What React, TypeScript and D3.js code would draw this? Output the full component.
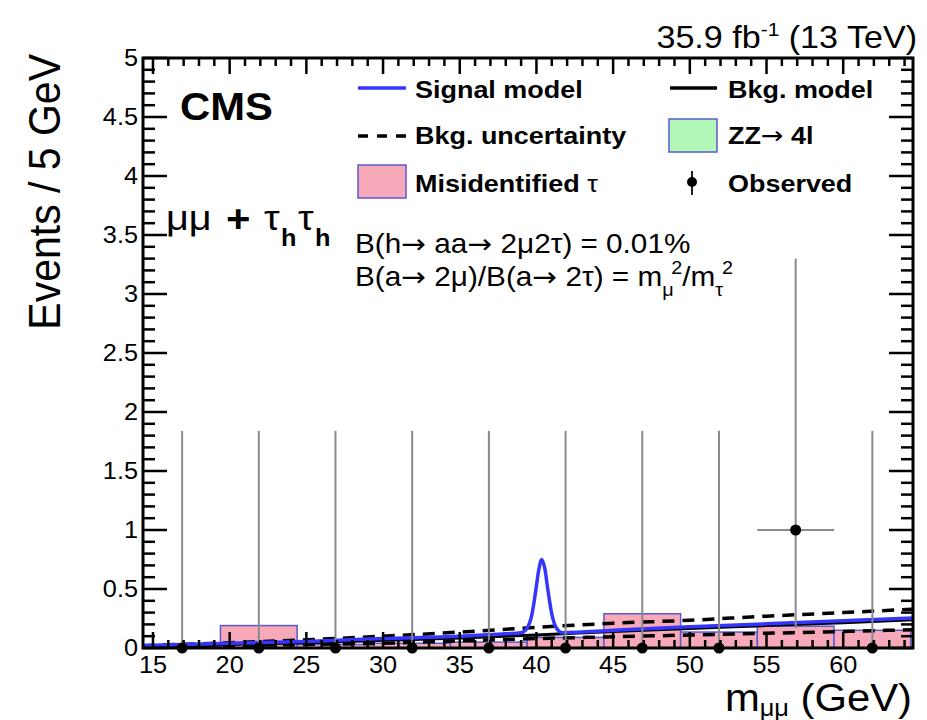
import React from "react";
import * as d3 from "d3";

// bins (GeV) and observed data
const binEdges = [14.4, 19.4, 24.4, 29.4, 34.4, 39.4, 44.4, 49.4, 54.4, 59.4, 64.4];
const obsCenters = [16.9, 21.9, 26.9, 31.9, 36.9, 41.9, 46.9, 51.9, 56.9, 61.9];
const obsCounts = [0, 0, 0, 0, 0, 0, 0, 0, 1, 0];
const obsErrUp = [1.84, 1.84, 1.84, 1.84, 1.84, 1.84, 1.84, 1.84, 2.3, 1.84];
const obsErrDown = [0, 0, 0, 0, 0, 0, 0, 0, 0.83, 0];

// misidentified tau histogram
const misId = [0.01, 0.19, 0.03, 0.04, 0.05, 0.09, 0.29, 0.135, 0.185, 0.15];

// background model and its uncertainty band edges [m, value]
const bkgModel = [
  [14.35, 0.01], [20, 0.03], [25, 0.045], [30, 0.065], [35, 0.085], [40, 0.11],
  [45, 0.14], [50, 0.165], [55, 0.19], [60, 0.215], [64.55, 0.24],
];
const bkgUp = [
  [14.35, 0.02], [20, 0.045], [25, 0.07], [30, 0.1], [35, 0.135], [40, 0.175],
  [45, 0.21], [50, 0.235], [55, 0.27], [60, 0.3], [64.55, 0.33],
];
const bkgDown = [
  [14.35, 0.005], [20, 0.02], [25, 0.03], [30, 0.04], [35, 0.06], [40, 0.08],
  [45, 0.095], [50, 0.11], [55, 0.125], [60, 0.14], [64.55, 0.155],
];
// signal + background
const signalModel = [
  [14.35, 0.02], [20, 0.04], [25, 0.055], [30, 0.08], [35, 0.1], [38, 0.12],
  [39.0, 0.13], [39.4, 0.17], [39.7, 0.28], [39.95, 0.48], [40.15, 0.66],
  [40.35, 0.75], [40.55, 0.67], [40.75, 0.49], [41.0, 0.29], [41.3, 0.17],
  [41.7, 0.13], [45, 0.15], [50, 0.18], [55, 0.205], [60, 0.23], [64.55, 0.255],
];

const FONT = "'Liberation Sans', Arial, Helvetica, sans-serif";
const ARROW = "'DejaVu Sans', sans-serif";
const SX = 1.1;

function T(props: any) {
  const { x, y, size, weight, anchor, children } = props;
  return (
    <text
      transform={`translate(${x},${y}) scale(${SX},1)`}
      fontSize={size}
      fontWeight={weight || "normal"}
      textAnchor={anchor || "start"}
      fontFamily={FONT}
      fill="#000"
    >
      {children}
    </text>
  );
}

const Arr = () => (
  <tspan fontFamily={ARROW} fontWeight="normal">→</tspan>
);

export default function App() {
  const x = d3.scaleLinear().domain([14.35, 64.55]).range([143, 913]);
  const y = d3.scaleLinear().domain([0, 5]).range([648, 58]);
  const [x0, x1] = x.range();
  const [y0, y1] = y.range();

  const line = d3
    .line<number[]>()
    .x((d) => x(d[0]))
    .y((d) => y(d[1]))
    .curve(d3.curveMonotoneX);

  const xMajor = x.ticks(10);
  const xMinor = d3.range(15, 65, 1).filter((v) => !xMajor.includes(v));
  const yMajor = y.ticks(10);
  const yMinor = y.ticks(50).filter((v) => Math.round(v * 10) % 5 !== 0);

  const blue = "#3535ff";
  const pink = "#f7a9b9";
  const edge = "#5a5ad0";
  const grey = "#8a8a8a";
  const LS = 24.5;

  return (
    <svg width={927} height={720} style={{ position: "absolute", left: 0, top: 0, background: "#fff" }}>
      <defs>
        <clipPath id="plot">
          <rect x={x0} y={y1} width={x1 - x0} height={y0 - y1} />
        </clipPath>
      </defs>

      <g clipPath="url(#plot)">
        {misId.map((v, i) => (
          <rect
            key={i}
            x={x(binEdges[i])}
            y={y(v)}
            width={x(binEdges[i + 1]) - x(binEdges[i])}
            height={y(0) - y(v)}
            fill={pink}
            stroke={edge}
            strokeWidth={1.5}
          />
        ))}
        <path d={line(bkgDown as any) || ""} fill="none" stroke="#000" strokeWidth={3.5} strokeDasharray="12,8" />
        <path d={line(bkgUp as any) || ""} fill="none" stroke="#000" strokeWidth={3.5} strokeDasharray="12,8" />
        <path d={line(bkgModel as any) || ""} fill="none" stroke="#000" strokeWidth={3} />
        <path d={line(signalModel as any) || ""} fill="none" stroke={blue} strokeWidth={3.5} />

        {obsCenters.map((c, i) => (
          <g key={i}>
            <line
              x1={x(c)}
              x2={x(c)}
              y1={y(obsCounts[i] - obsErrDown[i])}
              y2={y(obsCounts[i] + obsErrUp[i])}
              stroke={grey}
              strokeWidth={2}
            />
            <line
              x1={x(binEdges[i])}
              x2={x(binEdges[i + 1])}
              y1={y(obsCounts[i])}
              y2={y(obsCounts[i])}
              stroke={grey}
              strokeWidth={2}
            />
          </g>
        ))}
      </g>

      {/* frame and ticks */}
      <rect x={x0} y={y1} width={x1 - x0} height={y0 - y1} fill="none" stroke="#000" strokeWidth={3} />
      {xMajor.map((v) => (
        <g key={"xm" + v}>
          <line x1={x(v)} x2={x(v)} y1={y0} y2={y0 - 16} stroke="#000" strokeWidth={2.5} />
          <line x1={x(v)} x2={x(v)} y1={y1} y2={y1 + 16} stroke="#000" strokeWidth={2.5} />
        </g>
      ))}
      {xMinor.map((v) => (
        <g key={"xn" + v}>
          <line x1={x(v)} x2={x(v)} y1={y0} y2={y0 - 8} stroke="#000" strokeWidth={2.5} />
          <line x1={x(v)} x2={x(v)} y1={y1} y2={y1 + 8} stroke="#000" strokeWidth={2.5} />
        </g>
      ))}
      {yMajor.map((v) => (
        <g key={"ym" + v}>
          <line x1={x0} x2={x0 + 24} y1={y(v)} y2={y(v)} stroke="#000" strokeWidth={2.5} />
          <line x1={x1} x2={x1 - 24} y1={y(v)} y2={y(v)} stroke="#000" strokeWidth={2.5} />
        </g>
      ))}
      {yMinor.map((v) => (
        <g key={"yn" + v}>
          <line x1={x0} x2={x0 + 12} y1={y(v)} y2={y(v)} stroke="#000" strokeWidth={2.5} />
          <line x1={x1} x2={x1 - 12} y1={y(v)} y2={y(v)} stroke="#000" strokeWidth={2.5} />
        </g>
      ))}

      {/* observed points */}
      {obsCenters.map((c, i) => (
        <circle key={"p" + i} cx={x(c)} cy={y(obsCounts[i])} r={5.5} fill="#000" />
      ))}

      {/* tick labels */}
      {xMajor.map((v) => (
        <T key={"xl" + v} x={x(v)} y={673} size={23} anchor="middle">
          {v}
        </T>
      ))}
      {yMajor.map((v) => (
        <T key={"yl" + v} x={138} y={y(v) + 8} size={23} anchor="end">
          {v}
        </T>
      ))}

      {/* axis titles */}
      <T x={912} y={711} size={38} anchor="end">
        m<tspan fontSize={23} dy={5}>μμ</tspan>
        <tspan dy={-5}> (GeV)</tspan>
      </T>
      <text
        transform="translate(60,54) rotate(-90) scale(1,1.1)"
        fontSize={41}
        textAnchor="end"
        fontFamily={FONT}
      >
        Events / 5 GeV
      </text>
      <T x={917} y={48} size={31} anchor="end">
        35.9 fb<tspan fontSize={19} dy={-12}>-1</tspan>
        <tspan dy={12}> (13 TeV)</tspan>
      </T>

      {/* labels inside */}
      <T x={180} y={120} size={38} weight="bold">CMS</T>
      <T x={166} y={230} size={36}>μμ</T>
      <T x={226} y={232} size={38} weight="bold">+</T>
      <T x={264} y={230} size={36}>τ</T>
      <T x={281} y={246} size={23} weight="bold">h</T>
      <T x={298} y={230} size={36}>τ</T>
      <T x={315} y={246} size={23} weight="bold">h</T>

      <T x={355} y={253} size={27}>
        B(h<Arr /> aa<Arr /> 2μ2τ) = 0.01%
      </T>
      <T x={355} y={286} size={27}>
        B(a<Arr /> 2μ)/B(a<Arr /> 2τ) = m<tspan fontSize={18} dy={10}>μ</tspan>
        <tspan fontSize={18} dx={-2} dy={-22}>2</tspan>
        <tspan dy={12}>/m</tspan>
        <tspan fontSize={18} dy={10}>τ</tspan>
        <tspan fontSize={18} dx={-1} dy={-22}>2</tspan>
      </T>

      {/* legend */}
      <line x1={358} x2={406} y1={88} y2={88} stroke={blue} strokeWidth={3.5} />
      <T x={415} y={98} size={LS} weight="bold">Signal model</T>
      <line x1={670} x2={717} y1={88} y2={88} stroke="#000" strokeWidth={3.5} />
      <T x={728} y={98} size={LS} weight="bold">Bkg. model</T>

      <line x1={358} x2={406} y1={136} y2={136} stroke="#000" strokeWidth={3.5} strokeDasharray="10,9" />
      <T x={415} y={144} size={LS} weight="bold">Bkg. uncertainty</T>
      <rect x={669} y={119} width={48} height={33} fill="#b3f8b8" stroke={edge} strokeWidth={1.5} />
      <T x={728} y={144} size={LS} weight="bold">
        ZZ<Arr /> 4l
      </T>

      <rect x={358} y={165} width={48} height={33} fill={pink} stroke={edge} strokeWidth={1.5} />
      <T x={415} y={192} size={LS} weight="bold">
        Misidentified <tspan fontWeight="normal">τ</tspan>
      </T>
      <line x1={692} x2={692} y1={171} y2={195} stroke="#222" strokeWidth={2} />
      <circle cx={692} cy={182} r={5} fill="#000" />
      <T x={728} y={192} size={LS} weight="bold">Observed</T>
    </svg>
  );
}
